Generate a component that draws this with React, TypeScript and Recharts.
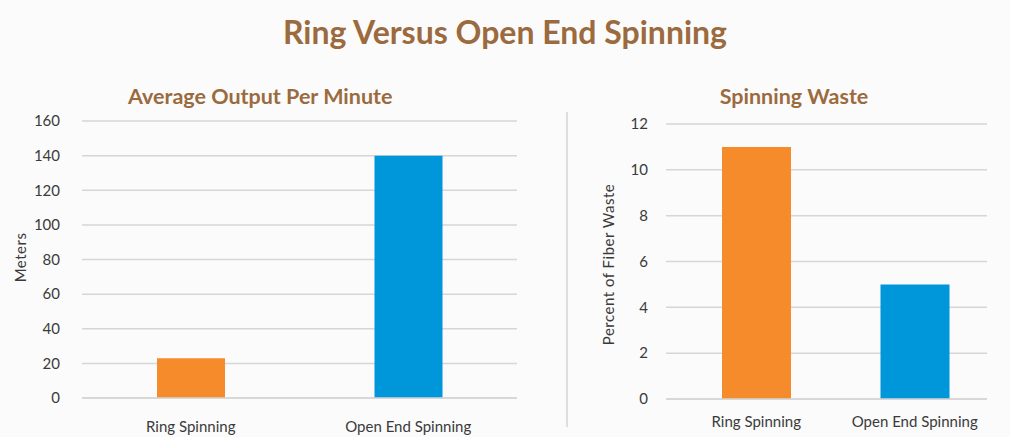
import React from 'react';
import { BarChart, Bar, XAxis, YAxis, CartesianGrid, Cell, Label } from 'recharts';

const categories = ['Ring Spinning', 'Open End Spinning'];
const outputMeters = [23, 140];
const wastePercent = [11, 5];
const outputTicks = [0, 20, 40, 60, 80, 100, 120, 140, 160];
const wasteTicks = [0, 2, 4, 6, 8, 10, 12];
const barColors = ['#F68B2C', '#0096DA'];

const outputData = categories.map((name, i) => ({ name, value: outputMeters[i] }));
const wasteData = categories.map((name, i) => ({ name, value: wastePercent[i] }));

const FONT = 'Lato, "Open Sans", sans-serif';
const BROWN = '#9B6A3E';
const TICK = { fill: '#3a3a3a', fontSize: 15, fontFamily: FONT };
const AXIS_LABEL = { fill: '#3a3a3a', fontSize: 15, fontFamily: FONT, letterSpacing: 0.5 };

export default function App() {
  return (
    <div style={{ position: 'absolute', left: 0, top: 0, width: 1010, height: 437, background: '#fbfbfb', overflow: 'hidden', fontFamily: FONT }}>
      <div style={{ position: 'absolute', left: 0, top: 12, width: 1010, textAlign: 'center', fontSize: 32, fontWeight: 700, color: BROWN, lineHeight: '40px' }}>
        Ring Versus Open End Spinning
      </div>
      <div style={{ position: 'absolute', left: 128, top: 82, fontSize: 21.5, fontWeight: 700, color: BROWN, lineHeight: '28px' }}>
        Average Output Per Minute
      </div>
      <div style={{ position: 'absolute', left: 594, width: 400, top: 82, textAlign: 'center', fontSize: 21.5, fontWeight: 700, color: BROWN, lineHeight: '28px' }}>
        Spinning Waste
      </div>
      <div style={{ position: 'absolute', left: 566, top: 112, width: 2, height: 315, background: '#dedede' }} />

      <div style={{ position: 'absolute', left: 0, top: 0 }}>
        <BarChart width={540} height={437} data={outputData} margin={{ top: 121, right: 23, bottom: 0, left: 0 }}>
          <CartesianGrid vertical={false} stroke="#d6d6d6" strokeWidth={1.5} />
          <XAxis dataKey="name" axisLine={{ stroke: '#d6d6d6', strokeWidth: 1.5 }} tickLine={false} tickSize={0} tickMargin={23} height={39} tick={TICK} interval={0} />
          <YAxis width={82} domain={[0, 160]} ticks={outputTicks} axisLine={false} tickLine={false} tickSize={0} tickMargin={22} tick={TICK} interval={0}>
            <Label value="Meters" angle={-90} position="center" dx={-20} dy={-2} style={AXIS_LABEL} />
          </YAxis>
          <Bar dataKey="value" barSize={68} isAnimationActive={false}>
            {outputData.map((d, i) => <Cell key={d.name} fill={barColors[i]} />)}
          </Bar>
        </BarChart>
      </div>

      <div style={{ position: 'absolute', left: 570, top: 0 }}>
        <BarChart width={440} height={437} data={wasteData} margin={{ top: 124, right: 23, bottom: 0, left: 0 }}>
          <CartesianGrid vertical={false} stroke="#d6d6d6" strokeWidth={1.5} />
          <XAxis dataKey="name" axisLine={{ stroke: '#d6d6d6', strokeWidth: 1.5 }} tickLine={false} tickSize={0} tickMargin={17} height={38} tick={TICK} interval={0} padding={{ left: 11, right: -7 }} />
          <YAxis width={96} domain={[0, 12]} ticks={wasteTicks} axisLine={false} tickLine={false} tickSize={0} tickMargin={18} tick={TICK} interval={0}>
            <Label value="Percent of Fiber Waste" angle={-90} position="center" dx={-9} dy={3} style={AXIS_LABEL} />
          </YAxis>
          <Bar dataKey="value" barSize={69} isAnimationActive={false}>
            {wasteData.map((d, i) => <Cell key={d.name} fill={barColors[i]} />)}
          </Bar>
        </BarChart>
      </div>
    </div>
  );
}
